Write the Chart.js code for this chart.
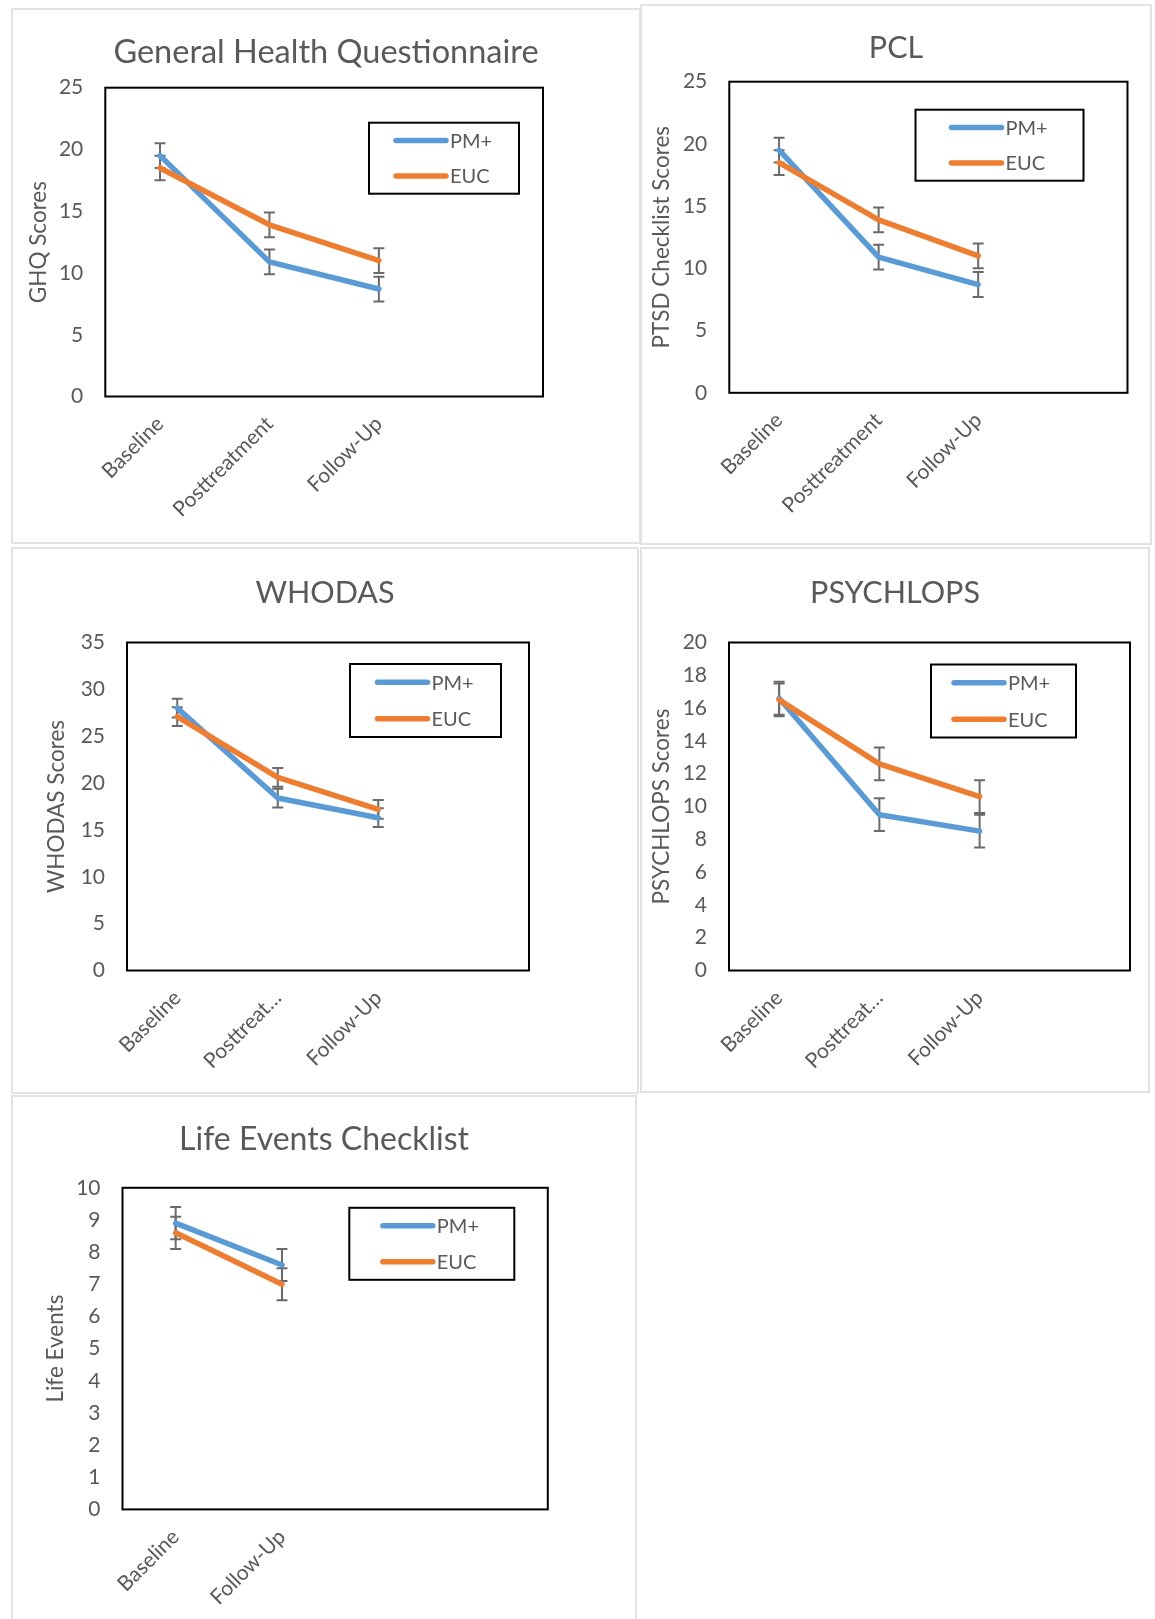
<!DOCTYPE html>
<html>
<head>
<meta charset="utf-8">
<script src="https://cdn.jsdelivr.net/npm/chart.js@4.4.0/dist/chart.umd.min.js"></script>
<style>
html, body { margin:0; padding:0; background:#ffffff; width:1155px; height:1619px; overflow:hidden; }
.panel { position:absolute; box-sizing:border-box; border:2px solid #E2E2E2; }
canvas { position:absolute; }
</style>
</head>
<body>
<div class="panel" style="left:11px;top:8px;width:630px;height:536px"></div>
<div class="panel" style="left:640px;top:4px;width:512px;height:541px"></div>
<div class="panel" style="left:11px;top:547px;width:628px;height:547px"></div>
<div class="panel" style="left:640px;top:547px;width:510px;height:546px"></div>
<div class="panel" style="left:11px;top:1095px;width:626px;height:560px"></div>
<canvas id="c1" width="628" height="534" style="left:12px;top:9px"></canvas>
<canvas id="c2" width="510" height="539" style="left:641px;top:5px"></canvas>
<canvas id="c3" width="626" height="545" style="left:12px;top:548px"></canvas>
<canvas id="c4" width="508" height="544" style="left:641px;top:548px"></canvas>
<canvas id="c5" width="624" height="523" style="left:12px;top:1096px"></canvas>
<script>
// ---------------- data ----------------
const seriesNames = ['PM+', 'EUC'];

const ghqTitle = 'General Health Questionnaire';
const ghqAxisTitle = 'GHQ Scores';
const ghqLabels = ['Baseline', 'Posttreatment', 'Follow-Up', ''];
const ghqPM = [19.5, 10.9, 8.7];
const ghqEUC = [18.5, 13.9, 11.0];
const ghqErrPM = [1, 1, 1];
const ghqErrEUC = [1, 1, 1];
const ghqYMax = 25, ghqYStep = 5;

const pclTitle = 'PCL';
const pclAxisTitle = 'PTSD Checklist Scores';
const pclLabels = ['Baseline', 'Posttreatment', 'Follow-Up', ''];
const pclPM = [19.5, 10.9, 8.7];
const pclEUC = [18.5, 13.9, 11.0];
const pclErrPM = [1, 1, 1];
const pclErrEUC = [1, 1, 1];
const pclYMax = 25, pclYStep = 5;

const whoTitle = 'WHODAS';
const whoAxisTitle = 'WHODAS Scores';
const whoLabels = ['Baseline', 'Posttreat…', 'Follow-Up', ''];
const whoPM = [28.0, 18.4, 16.3];
const whoEUC = [27.1, 20.6, 17.2];
const whoErrPM = [1, 1, 1];
const whoErrEUC = [1, 1, 1];
const whoYMax = 35, whoYStep = 5;

const psyTitle = 'PSYCHLOPS';
const psyAxisTitle = 'PSYCHLOPS Scores';
const psyLabels = ['Baseline', 'Posttreat…', 'Follow-Up', ''];
const psyPM = [16.6, 9.5, 8.5];
const psyEUC = [16.5, 12.6, 10.6];
const psyErrPM = [1, 1, 1];
const psyErrEUC = [1, 1, 1];
const psyYMax = 20, psyYStep = 2;

const lecTitle = 'Life Events Checklist';
const lecAxisTitle = 'Life Events';
const lecLabels = ['Baseline', 'Follow-Up', '', ''];
const lecPM = [8.9, 7.6];
const lecEUC = [8.6, 7.0];
const lecErrPM = [0.5, 0.5];
const lecErrEUC = [0.5, 0.5];
const lecYMax = 10, lecYStep = 1;

// ---------------- styles / layout ----------------
const FONT = 'Lato';
const TEXT = '#595959';
const BLUE = '#5B9BD5';
const ORANGE = '#ED7D31';
const ERR = '#6A6A6A';
const AXIS_TITLE_SIZE = 22.5;

const errorBarsPlugin = {
  id: 'errorBars',
  beforeDatasetsDraw(chart) {
    const ctx = chart.ctx;
    const y = chart.scales.y;
    ctx.save();
    ctx.strokeStyle = ERR;
    ctx.lineWidth = 2;
    chart.data.datasets.forEach((ds, i) => {
      const meta = chart.getDatasetMeta(i);
      meta.data.forEach((pt, j) => {
        const v = ds.data[j], e = ds.errors[j];
        const x = pt.x;
        const yt = y.getPixelForValue(v + e), yb = y.getPixelForValue(v - e);
        ctx.beginPath();
        ctx.moveTo(x, yt); ctx.lineTo(x, yb);
        ctx.moveTo(x - 5.5, yt); ctx.lineTo(x + 5.5, yt);
        ctx.moveTo(x - 5.5, yb); ctx.lineTo(x + 5.5, yb);
        ctx.stroke();
      });
    });
    ctx.restore();
  }
};

const panelDecorPlugin = {
  id: 'panelDecor',
  beforeDatasetsDraw(chart, args, opts) {
    const a = chart.chartArea, ctx = chart.ctx;
    ctx.save();
    // plot-area frame
    ctx.strokeStyle = '#000';
    ctx.lineWidth = 2;
    ctx.strokeRect(a.left, a.top, a.right - a.left, a.bottom - a.top);
    // chart title, centred on the panel
    ctx.fillStyle = TEXT;
    ctx.font = opts.titleSize + 'px ' + FONT;
    ctx.textAlign = 'center';
    ctx.textBaseline = 'middle';
    ctx.fillText(opts.title, chart.width / 2, opts.titleY + 2);
    ctx.restore();
  },
  afterDatasetsDraw(chart, args, opts) {
    const a = chart.chartArea, ctx = chart.ctx;
    const L = opts.legend;
    const bx = a.right - L.rightGap - L.w, by = a.top + L.topGap;
    ctx.save();
    ctx.fillStyle = '#fff';
    ctx.fillRect(bx, by, L.w, L.h);
    ctx.strokeStyle = '#000';
    ctx.lineWidth = 2;
    ctx.strokeRect(bx, by, L.w, L.h);
    chart.data.datasets.forEach((ds, i) => {
      const ry = by + L.h * (0.25 + 0.5 * i);
      ctx.strokeStyle = ds.borderColor;
      ctx.lineWidth = 5.5;
      ctx.lineCap = 'round';
      ctx.beginPath();
      ctx.moveTo(bx + L.sx, ry);
      ctx.lineTo(bx + L.sx + 50, ry);
      ctx.stroke();
      ctx.fillStyle = TEXT;
      ctx.font = '20px ' + FONT;
      ctx.textBaseline = 'middle';
      ctx.textAlign = 'left';
      ctx.fillText(ds.label, bx + L.sx + 54, ry + 1);
    });
    ctx.restore();
  }
};

function makeChart(id, p) {
  new Chart(document.getElementById(id), {
    type: 'line',
    data: {
      labels: p.labels,
      datasets: [
        { label: seriesNames[0], data: p.pm, errors: p.errPM, borderColor: BLUE, backgroundColor: BLUE, order: 1 },
        { label: seriesNames[1], data: p.euc, errors: p.errEUC, borderColor: ORANGE, backgroundColor: ORANGE, order: 0 }
      ]
    },
    options: {
      responsive: false,
      animation: false,
      devicePixelRatio: 1,
      layout: { padding: { left: 0, top: p.L.top, right: p.L.padRight, bottom: 0 } },
      elements: {
        line: { borderWidth: 5.5, tension: 0, borderCapStyle: 'round', borderJoinStyle: 'round', fill: false },
        point: { radius: 0, hoverRadius: 0 }
      },
      plugins: {
        legend: { display: false },
        tooltip: { enabled: false },
        title: { display: false },
        panelDecor: { title: p.title, titleSize: p.L.titleSize, titleY: p.L.titleY, legend: p.L.legend }
      },
      scales: {
        x: {
          type: 'category',
          offset: true,
          grid: { display: false },
          border: { display: false },
          ticks: {
            autoSkip: false, maxRotation: 45, minRotation: 45,
            color: TEXT, font: { family: FONT, size: 21 }, padding: 7
          },
          afterFit(s) { s.height = p.L.xh; }
        },
        y: {
          min: 0, max: p.yMax,
          grid: { display: false, drawTicks: false },
          border: { display: false },
          ticks: { stepSize: p.yStep, color: TEXT, font: { family: FONT, size: 21 }, padding: 22 },
          title: {
            display: true, text: p.axisTitle, color: TEXT,
            font: { family: FONT, size: AXIS_TITLE_SIZE, lineHeight: 1.2 },
            padding: { top: p.L.ytx - AXIS_TITLE_SIZE * 0.6, bottom: 0 }
          },
          afterFit(s) { s.width = p.L.left; }
        }
      }
    },
    plugins: [errorBarsPlugin, panelDecorPlugin]
  });
}

makeChart('c1', {
  title: ghqTitle, axisTitle: ghqAxisTitle, labels: ghqLabels, pm: ghqPM, euc: ghqEUC,
  errPM: ghqErrPM, errEUC: ghqErrEUC, yMax: ghqYMax, yStep: ghqYStep,
  L: { left: 93.3, top: 78.7, padRight: 97, xh: 146.5, titleY: 41.5, titleSize: 32.5, ytx: 27,
       legend: { rightGap: 24, topGap: 35, w: 150, h: 71, sx: 27 } }
});
makeChart('c2', {
  title: pclTitle, axisTitle: pclAxisTitle, labels: pclLabels, pm: pclPM, euc: pclEUC,
  errPM: pclErrPM, errEUC: pclErrEUC, yMax: pclYMax, yStep: pclYStep,
  L: { left: 88.3, top: 76.7, padRight: 23.5, xh: 151.2, titleY: 41.5, titleSize: 30.5, ytx: 21,
       legend: { rightGap: 44, topGap: 28, w: 168, h: 71, sx: 36 } }
});
makeChart('c3', {
  title: whoTitle, axisTitle: whoAxisTitle, labels: whoLabels, pm: whoPM, euc: whoEUC,
  errPM: whoErrPM, errEUC: whoErrEUC, yMax: whoYMax, yStep: whoYStep,
  L: { left: 115, top: 94.5, padRight: 109, xh: 122.5, titleY: 43, titleSize: 30.5, ytx: 45,
       legend: { rightGap: 28, topGap: 21.5, w: 151, h: 73, sx: 27.5 } }
});
makeChart('c4', {
  title: psyTitle, axisTitle: psyAxisTitle, labels: psyLabels, pm: psyPM, euc: psyEUC,
  errPM: psyErrPM, errEUC: psyErrEUC, yMax: psyYMax, yStep: psyYStep,
  L: { left: 88, top: 94.5, padRight: 19, xh: 121.5, titleY: 43, titleSize: 30.5, ytx: 21,
       legend: { rightGap: 54, topGap: 22, w: 145, h: 73, sx: 23 } }
});
makeChart('c5', {
  title: lecTitle, axisTitle: lecAxisTitle, labels: lecLabels, pm: lecPM, euc: lecEUC,
  errPM: lecErrPM, errEUC: lecErrEUC, yMax: lecYMax, yStep: lecYStep,
  L: { left: 110.5, top: 91.8, padRight: 88.2, xh: 109.6, titleY: 42, titleSize: 32, ytx: 44,
       legend: { rightGap: 33.5, topGap: 20, w: 165, h: 72, sx: 33.5 } }
});
</script>
</body>
</html>
